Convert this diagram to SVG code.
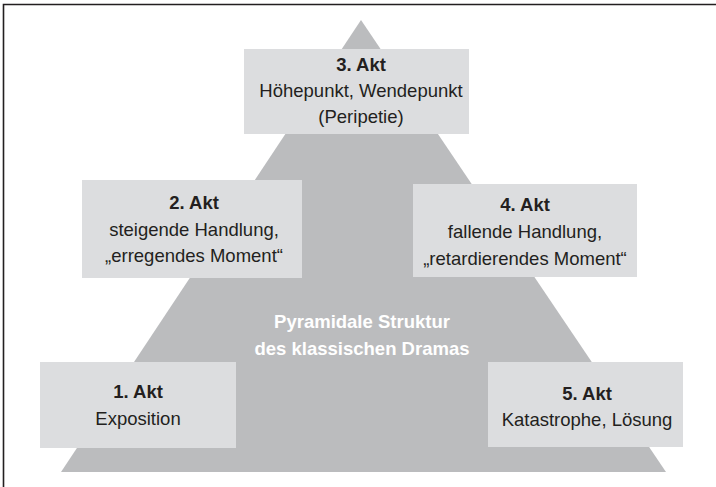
<svg xmlns="http://www.w3.org/2000/svg" width="716" height="487" viewBox="0 0 716 487">
<style>
.box{fill:#dcdddf}
.t{font-family:"Liberation Sans",Arial,sans-serif;font-size:18.5px;fill:#231f20;text-anchor:middle}
.b{font-weight:bold}
.w{fill:#ffffff;font-weight:bold}
</style>
<rect x="0" y="0" width="716" height="487" fill="#ffffff"/>
<path d="M3.5 487 V4.5 H716" fill="none" stroke="#231f20" stroke-width="1.6"/>
<polygon id="pyramid" points="361,20 666,472 61,472" fill="#bbbcbe"/>
<g id="center-label">
<text class="t w" x="362" y="328">Pyramidale Struktur</text>
<text class="t w" x="362" y="355">des klassischen Dramas</text>
</g>
<g id="akt3">
<rect class="box" x="244" y="49" width="225" height="85"/>
<text class="t b" x="361" y="71">3. Akt</text>
<text class="t" x="361" y="97">Höhepunkt, Wendepunkt</text>
<text class="t" x="361" y="123">(Peripetie)</text>
</g>
<g id="akt2">
<rect class="box" x="82" y="180" width="220" height="98"/>
<text class="t b" x="194" y="209">2. Akt</text>
<text class="t" x="194" y="235.5">steigende Handlung,</text>
<text class="t" x="194" y="262">„erregendes Moment“</text>
</g>
<g id="akt4">
<rect class="box" x="413" y="184" width="224" height="93"/>
<text class="t b" x="525" y="211">4. Akt</text>
<text class="t" x="525" y="238">fallende Handlung,</text>
<text class="t" x="525" y="265">„retardierendes Moment“</text>
</g>
<g id="akt1">
<rect class="box" x="40" y="362" width="196" height="86"/>
<text class="t b" x="138" y="398">1. Akt</text>
<text class="t" x="138" y="425">Exposition</text>
</g>
<g id="akt5">
<rect class="box" x="488" y="362" width="195" height="85"/>
<text class="t b" x="587" y="400">5. Akt</text>
<text class="t" x="587" y="426">Katastrophe, Lösung</text>
</g>
<g id="connectors"></g>
</svg>
